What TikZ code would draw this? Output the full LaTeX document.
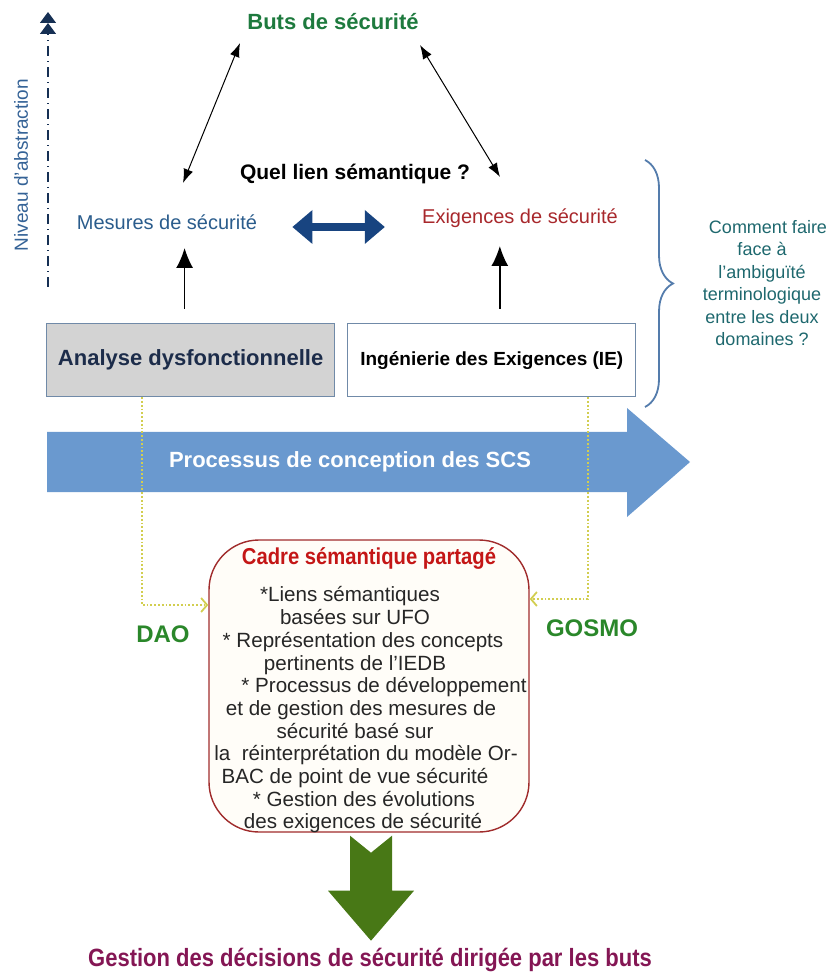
\documentclass[tikz,border=0pt]{standalone}
\usepackage{fontspec}
\setmainfont{Liberation Sans}
\newfontfamily\narrowfont[FakeStretch=0.88]{Liberation Sans}
\usepackage{tikz}
\usetikzlibrary{arrows.meta, positioning, decorations.pathreplacing}

\definecolor{butsgreen}{RGB}{30,122,62}
\definecolor{daogreen}{RGB}{42,135,42}
\definecolor{mesblue}{RGB}{42,92,140}
\definecolor{exred}{RGB}{168,40,44}
\definecolor{linknavy}{RGB}{24,68,128}
\definecolor{axisnavy}{RGB}{22,48,84}
\definecolor{axislbl}{RGB}{52,98,150}
\definecolor{commteal}{RGB}{30,104,110}
\definecolor{procblue}{RGB}{106,153,207}
\definecolor{boxgray}{RGB}{211,211,211}
\definecolor{boxedge}{RGB}{112,138,168}
\definecolor{anavy}{RGB}{28,44,74}
\definecolor{cadreedge}{RGB}{160,44,44}
\definecolor{cadrered}{RGB}{196,22,22}
\definecolor{cadrefill}{RGB}{255,253,248}
\definecolor{dotyellow}{RGB}{210,206,80}
\definecolor{bracecol}{RGB}{84,124,172}
\definecolor{downgreen}{RGB}{72,120,22}
\definecolor{gestmag}{RGB}{132,22,84}

\begin{document}
\begin{tikzpicture}[x=0.5pt, y=-0.5pt,
    lbl/.style={inner sep=0pt, font=\fontsize{10}{12}\selectfont},
    blk/.style={inner sep=0pt, font=\fontsize{11}{13}\selectfont\bfseries},
    dombox/.style={draw=boxedge, line width=0.6pt, minimum width=144pt,
        minimum height=36.5pt, inner sep=0pt},
    twoarr/.style={{Latex[length=7pt,width=5pt]}-{Latex[length=7pt,width=5pt]},
        line width=0.5pt},
    uparr/.style={-{Latex[length=10pt,width=8.5pt]}, line width=0.75pt},
    bigarr/.style={linknavy, line width=4pt,
        {Triangle[length=10pt,width=17pt,line width=0pt]}-{Triangle[length=10pt,width=17pt,line width=0pt]}},
    dotarr/.style={dotyellow, densely dotted, line width=0.9pt,
        -{Straight Barb[length=3pt,width=7pt]}}
  ]
  \useasboundingbox (0,0) rectangle (833,977);

  % axe vertical
  \coordinate (ax0) at (48,287);
  \coordinate (ax1) at (48,12);
  \draw[axisnavy, line width=0.6pt, dash pattern=on 5pt off 2.5pt on 0.5pt off 2.5pt,
      -{Triangle[length=5.5pt,width=8pt]Triangle[length=5.5pt,width=8pt]}] (ax0) -- (ax1);
  \node[rotate=90, inner sep=0pt, font=\fontsize{9.5}{11}\selectfont, text=axislbl]
      (niveau) at (21,165) {Niveau d'abstraction};

  % niveaux
  \node[blk, text=butsgreen] (buts) at (333,22) {Buts de sécurité};
  \node[blk, font=\fontsize{10.5}{12}\selectfont\bfseries] (lien) at (355,174) {Quel lien sémantique ?};
  \node[lbl, text=mesblue] (mesures) at (167,222) {Mesures de sécurité};
  \node[lbl, text=exred]   (exig)    at (520,218) {Exigences de sécurité};

  \draw[twoarr] ([shift={(-93,21)}]buts.center) -- ([shift={(16,-39)}]mesures.center);
  \draw[twoarr] ([shift={(87,23)}]buts.center) -- ([shift={(-20,-41)}]exig.center);
  \draw[bigarr] ([xshift=17.5pt,yshift=-2.5pt]mesures.east) coordinate (lk0)
      -- ([xshift=-18.5pt]exig.west |- lk0);

  % domaines
  \node[dombox, fill=boxgray, anchor=north west, text=anavy,
      font=\fontsize{11}{13}\selectfont\bfseries] (analyse) at (46,323) {Analyse dysfonctionnelle};
  \node[dombox, fill=white, right=6pt of analyse,
      font=\fontsize{9.5}{11}\selectfont\bfseries] (inge) {Ingénierie des Exigences (IE)};

  \draw[uparr] ([xshift=-3pt,yshift=7pt]analyse.north) -- ++(0,-61);
  \draw[uparr] ([xshift=4pt,yshift=7pt]inge.north) -- ++(0,-63);

  % accolade
  \draw[bracecol, line width=0.9pt, decorate, decoration={brace, amplitude=14pt}]
      (645,160) -- (645,407);
  \node[inner sep=0pt, align=center, text=commteal, font=\fontsize{9}{11.25}\selectfont]
      (comment) at (762,283)
      {\hspace*{6pt}Comment faire\\face à\hspace*{16pt}\\l'ambiguïté\hspace*{6pt}\\terminologique\\entre les deux\\domaines ?};

  % processus
  \fill[procblue] (47,432) -- (627,432) -- (627,408) -- (690,462) -- (627,517)
      -- (627,492) -- (47,492) -- cycle;
  \node[blk, text=white] (proc) at (350,462) {Processus de conception des SCS};

  % cadre partage
  \node[draw=cadreedge, fill=cadrefill, line width=0.7pt, rounded corners=25pt,
      minimum width=160pt, minimum height=146pt] (cadre) at (369,686) {};
  \node[inner sep=0pt, text=cadrered, font=\narrowfont\fontsize{11.5}{13}\selectfont\bfseries]
      (titre) at ([yshift=-9.5pt]cadre.north) {Cadre sémantique partagé};
  \node[inner sep=0pt, align=center, text=black!85, font=\fontsize{10.3}{11.35}\selectfont]
      (liste) at (355,710)
      {*Liens sémantiques\hspace*{5pt}\\
       basées sur UFO\hspace*{2pt}\\
       \hspace*{8pt}* Représentation des concepts\\
       pertinents de l’IEDB\hspace*{3pt}\\
       \hspace*{29pt}* Processus de développement\\
       \hspace*{6pt}et de gestion des mesures de\\
       sécurité basé sur\hspace*{6pt}\\
       \hspace*{11pt}la\ \ réinterprétation du modèle Or-\\
       BAC de point de vue sécurité\hspace*{2pt}\\
       \hspace*{9pt}* Gestion des évolutions\\
       \hspace*{8pt}des exigences de sécurité};

  \draw[dotarr] ([xshift=-24.5pt]analyse.south) |- ([yshift=40.5pt]cadre.west);
  \draw[dotarr] ([xshift=48pt]inge.south) |- ([yshift=43.5pt]cadre.east);
  \node[inner sep=0pt, text=daogreen, font=\fontsize{12}{14}\selectfont\bfseries]
      (dao) at (163,634) {DAO};
  \node[inner sep=0pt, text=daogreen, font=\fontsize{12}{14}\selectfont\bfseries]
      (gosmo) at (592,628) {GOSMO};

  % resultat
  \fill[downgreen] ([shift={(-19,3)}]cadre.south) -- ++(21,17) -- ++(21,-17) -- ++(0,55)
      -- ++(22,0) -- ++(-43,50) -- ++(-43,-50) -- ++(22,0) -- cycle;
  \node[inner sep=0pt, text=gestmag, font=\narrowfont\fontsize{12.5}{14}\selectfont\bfseries]
      (gestion) at (370,960) {Gestion des décisions de sécurité dirigée par les buts};
\end{tikzpicture}
\end{document}
